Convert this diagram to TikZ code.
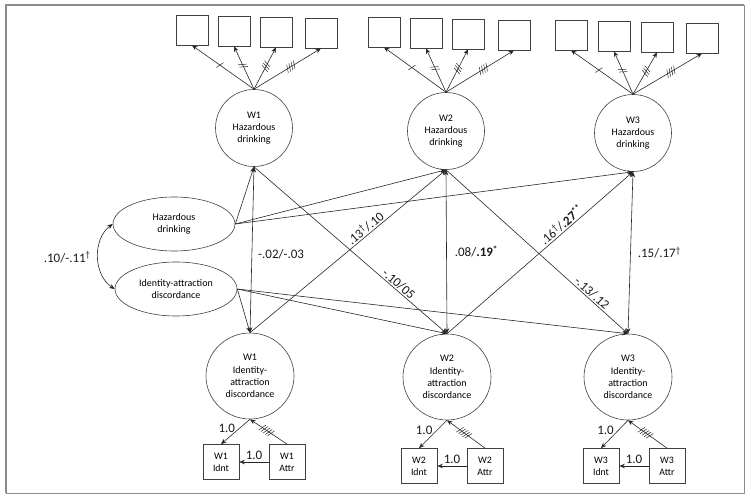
\documentclass[tikz,border=0pt]{standalone}
\usepackage{fontspec}
\setmainfont{Carlito}
\usetikzlibrary{arrows.meta,decorations.markings,shapes.geometric}
\tikzset{
  ln/.style={draw=black!85, line width=0.6pt},
  arr/.style={ln, -{Stealth[length=5.5pt,width=4.5pt]}},
  darr/.style={ln, {Stealth[length=5.5pt,width=4.5pt]}-{Stealth[length=5.5pt,width=4.5pt]}},
  ind/.style={draw=black!75, line width=0.7pt, minimum width=32pt, minimum height=30pt, inner sep=0pt},
  obs/.style={draw=black!75, line width=0.7pt, minimum width=36pt, minimum height=35pt, inner sep=0pt, align=center, font=\fontsize{9.8}{12}\selectfont},
  lat/.style={circle, draw=black!75, line width=0.6pt, minimum size=77pt, inner sep=0pt, align=center, font=\fontsize{10}{11.8}\selectfont},
  lat2/.style={ellipse, draw=black!75, line width=0.6pt, minimum width=88pt, minimum height=86pt, inner sep=0pt, align=center, font=\fontsize{10}{12.2}\selectfont},
  ell/.style={ellipse, draw=black!75, line width=0.6pt, minimum width=122pt, minimum height=54pt, inner sep=0pt, align=center, font=\fontsize{10}{11.8}\selectfont},
  lab/.style={font=\fontsize{13}{14}\selectfont, text=black!90, inner sep=1pt},
  frame/.style={draw=black!45, line width=1pt},
  tk/.style={postaction={decorate, decoration={markings, mark=at position 0.55 with {\foreach \k in {1,...,#1}{\draw[line width=0.5pt,black!85,-] ({(\k-1)*2.6pt-(#1-1)*1.3pt-1.5pt},-4pt) -- ({(\k-1)*2.6pt-(#1-1)*1.3pt+1.5pt},4pt);}}}}}
}
\begin{document}
\begin{tikzpicture}[x=1pt,y=-1pt]
\useasboundingbox (0,0) rectangle (751,500);
\draw[frame] (6,5.5) rectangle (744,493);
\draw[frame, line width=2pt] (6,493) -- (6,5.5) -- (744,5.5);

% latent hazardous drinking
\node[lat] (w1hd) at (254,128) {W1\\Hazardous\\drinking};
\node[lat] (w2hd) at (446,131) {W2\\Hazardous\\drinking};
\node[lat] (w3hd) at (633,133) {W3\\Hazardous\\drinking};

% indicators
\node[ind] (a11) at (192,30) {};
\node[ind] (a12) at (234,31) {};
\node[ind] (a13) at (276,32) {};
\node[ind] (a14) at (321,33) {};
\node[ind] (a21) at (384,32) {};
\node[ind] (a22) at (426,33) {};
\node[ind] (a23) at (468,34) {};
\node[ind] (a24) at (514,35) {};
\node[ind] (a31) at (571,35) {};
\node[ind] (a32) at (614,36) {};
\node[ind] (a33) at (657,37) {};
\node[ind] (a34) at (702,38) {};

\draw[arr, tk=1] (w1hd.north) -- (a11.south);
\draw[arr, tk=2] (w1hd.north) -- (a12.south);
\draw[arr, tk=3] (w1hd.north) -- (a13.south);
\draw[arr, tk=4] (w1hd.north) -- (a14.south);
\draw[arr, tk=1] (w2hd.north) -- (a21.south);
\draw[arr, tk=2] (w2hd.north) -- (a22.south);
\draw[arr, tk=3] (w2hd.north) -- (a23.south);
\draw[arr, tk=4] (w2hd.north) -- (a24.south);
\draw[arr, tk=1] (w3hd.north) -- (a31.south);
\draw[arr, tk=2] (w3hd.north) -- (a32.south);
\draw[arr, tk=3] (w3hd.north) -- (a33.south);
\draw[arr, tk=4] (w3hd.north) -- (a34.south);

% latent identity-attraction discordance
\node[lat2] (w1iad) at (250,376) {W1\\Identity-\\attraction\\discordance};
\node[lat2] (w2iad) at (447,377) {W2\\Identity-\\attraction\\discordance};
\node[lat2] (w3iad) at (628,377) {W3\\Identity-\\attraction\\discordance};

% covariates
\node[ell] (hd) at (174,224) {Hazardous\\drinking};
\node[ell] (iad) at (176,289) {Identity-attraction\\discordance};

\draw[darr] (hd.west) to[bend right=55] node[lab, left=6pt] {.10/-.11\textsuperscript{†}} (iad.west);

\draw[arr] (hd.east) -- (w1hd.south);
\draw[arr] (hd.east) -- (w2hd.south);
\draw[arr] (hd.east) -- (w3hd.south);
\draw[arr] (iad.east) -- (w1iad.north);
\draw[arr] (iad.east) -- (w2iad.north);
\draw[arr] (iad.east) -- (w3iad.north);

% structural paths
\draw[darr] (w1hd.south) -- node[lab, right=5pt, pos=0.53] {-.02/-.03} (w1iad.north);
\draw[arr] (w1hd.south) -- node[lab, sloped, above, pos=0.73] {-.10/05} (w2iad.north);
\draw[arr] (w1iad.north) -- node[lab, sloped, above, pos=0.61] {.13\textsuperscript{†}/.10} (w2hd.south);
\draw[darr] (w2hd.south) -- node[lab, right=7pt, pos=0.5] {.08/\textbf{.19\textsuperscript{*}}} (w2iad.north);
\draw[arr] (w2hd.south) -- node[lab, sloped, above, pos=0.78] {-.13/.12} (w3iad.north);
\draw[arr] (w2iad.north) -- node[lab, sloped, above, pos=0.64] {.16\textsuperscript{†}/\textbf{.27\textsuperscript{**}}} (w3hd.south);
\draw[darr] (w3hd.south) -- node[lab, right=6pt, pos=0.5] {.15/.17\textsuperscript{†}} (w3iad.north);

% observed Idnt / Attr
\node[obs] (i1) at (221,462) {W1\\Idnt};
\node[obs] (t1) at (287,462) {W1\\Attr};
\node[obs] (i2) at (419,466) {W2\\Idnt};
\node[obs] (t2) at (485,466) {W2\\Attr};
\node[obs] (i3) at (601,466) {W3\\Idnt};
\node[obs] (t3) at (667,466) {W3\\Attr};

\draw[arr] (w1iad.south) -- node[lab, left=3pt, pos=0.37] {1.0} (i1.north);
\draw[arr, tk=5] (t1.north) -- (w1iad.south);
\draw[arr] (t1.west) -- node[lab, above=1pt] {1.0} (i1.east);
\draw[arr] (w2iad.south) -- node[lab, left=3pt, pos=0.37] {1.0} (i2.north);
\draw[arr, tk=5] (t2.north) -- (w2iad.south);
\draw[arr] (t2.west) -- node[lab, above=1pt] {1.0} (i2.east);
\draw[arr] (w3iad.south) -- node[lab, left=3pt, pos=0.37] {1.0} (i3.north);
\draw[arr, tk=5] (t3.north) -- (w3iad.south);
\draw[arr] (t3.west) -- node[lab, above=1pt] {1.0} (i3.east);
\end{tikzpicture}
\end{document}
